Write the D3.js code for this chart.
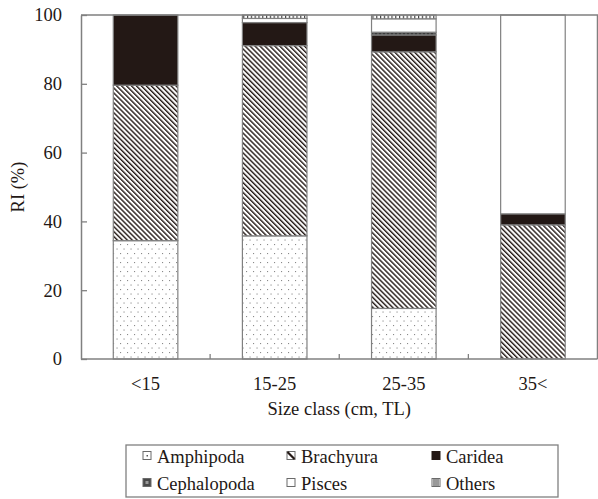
<!DOCTYPE html>
<html>
<head>
<meta charset="utf-8">
<script src="https://cdn.jsdelivr.net/npm/d3@7"></script>
<style>
  html, body { margin: 0; padding: 0; background: #fff; }
  svg { display: block; }
</style>
</head>
<body>
<svg id="chart" width="598" height="499"></svg>
<script>
// Relative importance (RI, %) of prey groups by size class
const categories = ["<15", "15-25", "25-35", "35<"];
const groups = ["Amphipoda", "Brachyura", "Caridea", "Cephalopoda", "Pisces", "Others"];
const amphipoda   = [34.4, 35.8, 14.7, 0];
const brachyura   = [45.2, 55.3, 74.6, 39.0];
const caridea     = [20.4, 6.7, 4.9, 3.2];
const cephalopoda = [0, 0, 0.8, 0];
const pisces      = [0, 1.2, 3.9, 57.8];
const others      = [0, 1.0, 1.1, 0];
const yTicks = [0, 20, 40, 60, 80, 100];

const seriesValues = [amphipoda, brachyura, caridea, cephalopoda, pisces, others];
const rows = categories.map((c, i) => {
  const r = { cat: c };
  groups.forEach((g, j) => { r[g] = seriesValues[j][i]; });
  return r;
});

const svg = d3.select("#chart");
const plotLeft = 81, plotRight = 597.5, plotTop = 15, plotBottom = 359;
const ink = "#231815", frame = "#808080";
const serif = "'Liberation Serif', Tinos, monospace";

const x = d3.scaleBand().domain(categories).range([plotLeft, plotRight])
  .paddingInner(0.5).paddingOuter(0.25);
const y = d3.scaleLinear().domain([0, 100]).range([plotBottom, plotTop]);

// fill patterns
const defs = svg.append("defs");

const dots = defs.append("pattern").attr("id", "p-amph")
  .attr("patternUnits", "userSpaceOnUse").attr("width", 7).attr("height", 9);
dots.append("rect").attr("width", 7).attr("height", 9).attr("fill", "#fff");
dots.append("rect").attr("x", 1).attr("y", 1).attr("width", 1.1).attr("height", 1.1).attr("fill", "#8a8a8a");
dots.append("rect").attr("x", 4.5).attr("y", 5.5).attr("width", 1.1).attr("height", 1.1).attr("fill", "#8a8a8a");

const hatch = defs.append("pattern").attr("id", "p-brach")
  .attr("patternUnits", "userSpaceOnUse").attr("width", 3.5).attr("height", 10)
  .attr("patternTransform", "rotate(-45)");
hatch.append("rect").attr("width", 3.5).attr("height", 10).attr("fill", "#fff");
hatch.append("rect").attr("width", 1.4).attr("height", 10).attr("fill", ink);

const ceph = defs.append("pattern").attr("id", "p-ceph")
  .attr("patternUnits", "userSpaceOnUse").attr("width", 4).attr("height", 4);
ceph.append("rect").attr("width", 4).attr("height", 4).attr("fill", "#3c3c3c");
ceph.append("rect").attr("x", 1.5).attr("y", 1.5).attr("width", 1).attr("height", 1).attr("fill", "#b0b0b0");

const vert = defs.append("pattern").attr("id", "p-others")
  .attr("patternUnits", "userSpaceOnUse").attr("width", 3.8).attr("height", 10);
vert.append("rect").attr("width", 3.8).attr("height", 10).attr("fill", "#fff");
vert.append("rect").attr("width", 1.2).attr("height", 10).attr("fill", "#444");

const fills = {
  Amphipoda: "url(#p-amph)",
  Brachyura: "url(#p-brach)",
  Caridea: ink,
  Cephalopoda: "url(#p-ceph)",
  Pisces: "#fff",
  Others: "url(#p-others)"
};

// stacked bars
const stacked = d3.stack().keys(groups)(rows);
svg.append("g").selectAll("g").data(stacked).join("g")
  .attr("fill", d => fills[d.key])
  .selectAll("rect").data(d => d.filter(s => s[1] - s[0] > 0)).join("rect")
  .attr("x", d => x(d.data.cat))
  .attr("width", x.bandwidth())
  .attr("y", d => y(d[1]))
  .attr("height", d => y(d[0]) - y(d[1]))
  .attr("stroke", frame).attr("stroke-width", 1.2);

// frame: top and right borders
svg.append("path")
  .attr("d", `M${plotLeft},${plotTop}H${plotRight}V${plotBottom}`)
  .attr("fill", "none").attr("stroke", frame).attr("stroke-width", 1.5);

// y axis, ticks inward
const yAxis = svg.append("g").attr("transform", `translate(${plotLeft},0)`)
  .call(d3.axisLeft(y).tickValues(yTicks).tickSizeInner(-6).tickSizeOuter(0).tickPadding(19));
yAxis.attr("font-family", null).attr("font-size", null);
yAxis.select(".domain").attr("stroke", frame).attr("stroke-width", 1.5);
yAxis.selectAll(".tick line").attr("stroke", frame).attr("stroke-width", 1.3);
yAxis.selectAll(".tick text")
  .style("font-family", serif).style("font-size", "18.5px").attr("fill", ink);

// x axis, ticks inward at band boundaries
const xAxis = svg.append("g").attr("transform", `translate(0,${plotBottom})`)
  .call(d3.axisBottom(x).tickSize(0).tickPadding(18));
xAxis.attr("font-family", null).attr("font-size", null);
xAxis.select(".domain").attr("d", `M${plotLeft},0H${plotRight}`).attr("stroke", frame).attr("stroke-width", 1.5);
xAxis.selectAll(".tick text")
  .style("font-family", serif).style("font-size", "18.5px").attr("fill", ink);
svg.append("g").selectAll("line").data(categories.slice(1)).join("line")
  .attr("x1", c => x(c) - (x.step() - x.bandwidth()) / 2)
  .attr("x2", c => x(c) - (x.step() - x.bandwidth()) / 2)
  .attr("y1", plotBottom).attr("y2", plotBottom - 5)
  .attr("stroke", frame).attr("stroke-width", 1.3);

// axis titles
svg.append("text").attr("x", (plotLeft + plotRight) / 2).attr("y", 415)
  .attr("text-anchor", "middle").attr("fill", ink)
  .style("font-family", serif).style("font-size", "18.5px")
  .text("Size class (cm, TL)");
svg.append("text").attr("transform", `translate(24,${(plotTop + plotBottom) / 2}) rotate(-90)`)
  .attr("text-anchor", "middle").attr("fill", ink)
  .style("font-family", serif).style("font-size", "18.5px")
  .text("RI (%)");

// legend
const lg = svg.append("g");
lg.append("rect").attr("x", 126).attr("y", 445).attr("width", 432).attr("height", 52)
  .attr("fill", "#fff").attr("stroke", frame).attr("stroke-width", 1.3);
const colX = [143, 287, 432];
const rowY = [462.5, 489.5];
groups.forEach((g, i) => {
  const cx = colX[i % 3], ry = rowY[Math.floor(i / 3)];
  const item = lg.append("g").attr("transform", `translate(${cx},${ry - 11})`);
  const box = item.append("rect").attr("width", 8).attr("height", 8)
    .attr("stroke", "#6a6a6a").attr("stroke-width", 1);
  if (g === "Amphipoda") {
    box.attr("fill", "#fff");
    item.append("rect").attr("x", 3.5).attr("y", 3.5).attr("width", 1.5).attr("height", 1.5).attr("fill", "#555");
  } else if (g === "Brachyura") {
    box.attr("fill", "#fff");
    item.append("line").attr("x1", 0.5).attr("y1", 0.5).attr("x2", 7.5).attr("y2", 7.5)
      .attr("stroke", ink).attr("stroke-width", 2.2);
  } else if (g === "Caridea") {
    box.attr("fill", ink).attr("stroke", ink);
  } else if (g === "Cephalopoda") {
    box.attr("fill", "#4a4a4a");
    item.append("rect").attr("x", 2.5).attr("y", 2.5).attr("width", 3).attr("height", 3).attr("fill", "#999");
  } else if (g === "Pisces") {
    box.attr("fill", "#fff");
  } else {
    box.attr("fill", "#fff");
    [2, 4, 6].forEach(v => item.append("line").attr("x1", v).attr("x2", v).attr("y1", 0.5).attr("y2", 7.5)
      .attr("stroke", "#333").attr("stroke-width", 1));
  }
  lg.append("text").attr("x", cx + 14).attr("y", ry).attr("fill", ink)
    .style("font-family", serif).style("font-size", "18.5px").text(g);
});
</script>
</body>
</html>
